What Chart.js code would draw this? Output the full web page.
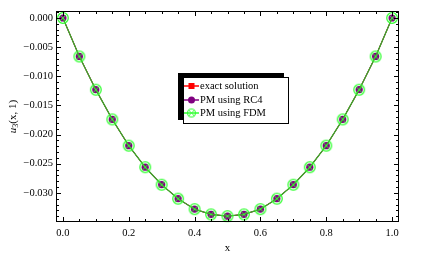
<!DOCTYPE html>
<html><head><meta charset="utf-8">
<script src="https://cdn.jsdelivr.net/npm/chart.js@4"></script>
<style>html,body{margin:0;padding:0;background:#fff}canvas{display:block}</style>
</head><body>
<canvas id="c" width="423" height="259"></canvas>
<script>
const xValues = [0,0.05,0.1,0.15,0.2,0.25,0.3,0.35,0.4,0.45,0.5,0.55,0.6,0.65,0.7,0.75,0.8,0.85,0.9,0.95,1.0];
const exactValues = [0,-0.0066,-0.0123,-0.0174,-0.0219,-0.0256,-0.0286,-0.0310,-0.0328,-0.0337,-0.0340,-0.0337,-0.0328,-0.0310,-0.0286,-0.0256,-0.0219,-0.0174,-0.0123,-0.0066,0];
const rc4Values = [0,-0.0066,-0.0123,-0.0174,-0.0219,-0.0256,-0.0286,-0.0310,-0.0328,-0.0337,-0.0340,-0.0337,-0.0328,-0.0310,-0.0286,-0.0256,-0.0219,-0.0174,-0.0123,-0.0066,0];
const fdmValues = [0,-0.0066,-0.0123,-0.0174,-0.0219,-0.0256,-0.0286,-0.0310,-0.0328,-0.0337,-0.0340,-0.0337,-0.0328,-0.0310,-0.0286,-0.0256,-0.0219,-0.0174,-0.0123,-0.0066,0];
const seriesNames = ['exact solution','PM using RC4','PM using FDM'];
const xTickValues = [0,0.2,0.4,0.6,0.8,1.0];
const xTickLabels = ['0.0','0.2','0.4','0.6','0.8','1.0'];
const yTickValues = [0,-0.005,-0.010,-0.015,-0.020,-0.025,-0.030];
const yTickLabels = ['0.000','\u22120.005','\u22120.010','\u22120.015','\u22120.020','\u22120.025','\u22120.030'];

const SERIF = "'Liberation Serif','DejaVu Serif',serif";
const RED = 'rgb(255,0,0)', PURPLE = 'rgb(128,0,128)', GREEN = 'rgb(50,255,50)', LINEGREEN = 'rgb(60,170,40)';

function fdmMarker(r, lw){
  const s = Math.ceil(2*r+3), c = document.createElement('canvas');
  c.width = s; c.height = s;
  const g = c.getContext('2d'), m = s/2;
  g.strokeStyle = GREEN; g.lineWidth = lw;
  g.beginPath(); g.arc(m,m,r,0,Math.PI*2); g.stroke();
  const d = r*0.68;
  g.lineWidth = 0.9;
  g.beginPath(); g.moveTo(m-d,m-d); g.lineTo(m+d,m+d); g.moveTo(m+d,m-d); g.lineTo(m-d,m+d); g.stroke();
  return c;
}
const fdmImg = fdmMarker(5.3, 1.3);
const fdmImgSmall = fdmMarker(4, 1.1);

const toPts = (ys) => xValues.map((x,i)=>({x:x,y:ys[i]}));

const framePlugin = {
  id:'frame',
  afterDraw(chart){
    const ctx = chart.ctx, a = chart.chartArea, xs = chart.scales.x, ys = chart.scales.y;
    ctx.save();
    ctx.strokeStyle = '#000'; ctx.lineWidth = 1;
    ctx.strokeRect(Math.round(a.left)+0.5, Math.round(a.top)+0.5, Math.round(a.right-a.left)-1, Math.round(a.bottom-a.top)-1);
    ctx.beginPath();
    for (let k=0;k<=20;k++){
      const v = k*0.05, major = (k%4===0), L = major?5:3;
      const px = Math.round(xs.getPixelForValue(v))+0.5;
      ctx.moveTo(px,a.bottom); ctx.lineTo(px,a.bottom-L);
      ctx.moveTo(px,a.top); ctx.lineTo(px,a.top+L);
    }
    for (let k=1;k>=-35;k--){
      const v = k*0.001, major = (k%5===0), L = major?5:3;
      const py = Math.round(ys.getPixelForValue(v))+0.5;
      if (py < a.top+1 || py > a.bottom-1) continue;
      ctx.moveTo(a.left,py); ctx.lineTo(a.left+L,py);
      ctx.moveTo(a.right,py); ctx.lineTo(a.right-L,py);
    }
    ctx.stroke();

    // axis titles
    ctx.fillStyle = '#000';
    ctx.font = '11px ' + SERIF;
    ctx.textAlign = 'center'; ctx.textBaseline = 'middle';
    ctx.fillText('x', (a.left+a.right)/2, 248);
    ctx.save();
    ctx.translate(13, (a.top+a.bottom)/2);
    ctx.rotate(-Math.PI/2);
    const p1 = 'u', p2 = '3', p3 = '(x, 1)';
    ctx.font = 'italic 11px ' + SERIF; const w1 = ctx.measureText(p1).width;
    ctx.font = '8px ' + SERIF; const w2 = ctx.measureText(p2).width;
    ctx.font = '11px ' + SERIF; const w3 = ctx.measureText(p3).width;
    let x0 = -(w1+w2+w3)/2;
    ctx.textAlign = 'left';
    ctx.font = 'italic 11px ' + SERIF; ctx.fillText(p1, x0, 0); x0 += w1;
    ctx.font = '8px ' + SERIF; ctx.fillText(p2, x0, 3); x0 += w2;
    ctx.font = '11px ' + SERIF; ctx.fillText(p3, x0, 0);
    ctx.restore();

    // legend box
    const bx = 183, by = 77, bw = 106, bh = 47;
    ctx.fillStyle = '#000'; ctx.fillRect(bx-5, by-4, bw, bh);
    ctx.fillStyle = '#fff'; ctx.fillRect(bx, by, bw, bh);
    ctx.strokeStyle = '#000'; ctx.lineWidth = 1; ctx.strokeRect(bx+0.5, by+0.5, bw-1, bh-1);
    const rows = [86, 100, 113];
    const lcol = [RED, PURPLE, GREEN];
    ctx.font = '10.5px ' + SERIF; ctx.textAlign = 'left'; ctx.textBaseline = 'middle';
    rows.forEach((ry,i)=>{
      ctx.strokeStyle = lcol[i]; ctx.lineWidth = 1.5;
      ctx.beginPath(); ctx.moveTo(184, ry); ctx.lineTo(199, ry); ctx.stroke();
      if (i===0){ ctx.fillStyle = RED; ctx.fillRect(188.5, ry-3, 6, 6); }
      if (i===1){ ctx.fillStyle = PURPLE; ctx.beginPath(); ctx.arc(191.5, ry, 3.5, 0, Math.PI*2); ctx.fill(); }
      if (i===2){ ctx.drawImage(fdmImgSmall, 191.5-fdmImgSmall.width/2, ry-fdmImgSmall.height/2); }
      ctx.fillStyle = '#000';
      ctx.fillText(seriesNames[i], 200, ry+0.5);
    });
    ctx.restore();
  }
};

new Chart(document.getElementById('c'), {
  type:'line',
  data:{ datasets:[
    { label:seriesNames[0], data:toPts(exactValues), borderColor:RED, backgroundColor:RED, borderWidth:1,
      pointStyle:'rect', pointRadius:3.6, pointBorderWidth:0, order:3, clip:false },
    { label:seriesNames[1], data:toPts(rc4Values), borderColor:PURPLE, backgroundColor:PURPLE, borderWidth:1,
      pointStyle:'circle', pointRadius:3.6, pointBorderWidth:0, order:2, clip:false },
    { label:seriesNames[2], data:toPts(fdmValues), borderColor:LINEGREEN, backgroundColor:'transparent', borderWidth:1.3,
      pointStyle:fdmImg, pointRadius:6, order:1, clip:false }
  ]},
  options:{
    responsive:false, animation:false, devicePixelRatio:1,
    layout:{ padding:{ left:0, right:24, top:11, bottom:0 } },
    plugins:{ legend:{display:false}, tooltip:{enabled:false}, title:{display:false} },
    scales:{
      x:{ type:'linear', min:-0.021, max:1.021,
        grid:{ display:false, drawTicks:false }, border:{ display:false },
        afterBuildTicks(s){ s.ticks = xTickValues.map(v=>({value:v})); },
        afterFit(s){ s.height = 37; },
        ticks:{ padding:5, color:'#000', font:{ family:SERIF, size:10.5 }, maxRotation:0, autoSkip:false,
          callback(v){ const i = xTickValues.findIndex(t=>Math.abs(t-v)<1e-9); return i>=0 ? xTickLabels[i] : ''; } }
      },
      y:{ type:'linear', min:-0.0350, max:0.0012,
        grid:{ display:false, drawTicks:false }, border:{ display:false },
        afterBuildTicks(s){ s.ticks = yTickValues.map(v=>({value:v})); },
        afterFit(s){ s.width = 56; },
        ticks:{ padding:3, color:'#000', font:{ family:SERIF, size:10.5 }, autoSkip:false,
          callback(v){ const i = yTickValues.findIndex(t=>Math.abs(t-v)<1e-9); return i>=0 ? yTickLabels[i] : ''; } }
      }
    }
  },
  plugins:[framePlugin]
});
</script>
</body></html>
